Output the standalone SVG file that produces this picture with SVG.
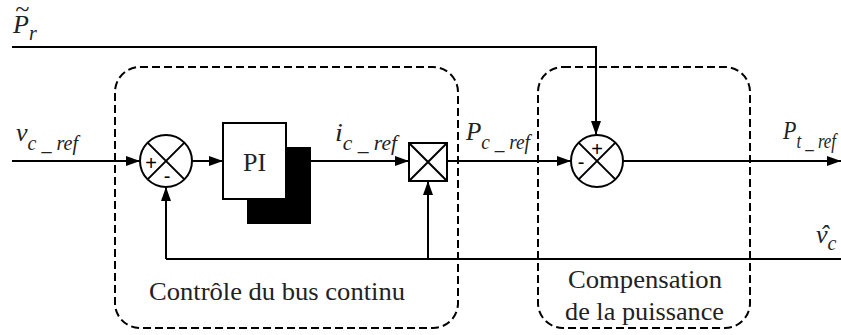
<svg xmlns="http://www.w3.org/2000/svg" width="841" height="335" viewBox="0 0 841 335">
<defs>
<style>
.ln{fill:none;stroke:#000;stroke-width:2}
.dash{fill:none;stroke:#000;stroke-width:2;stroke-dasharray:8 4}
.m{font-family:'Liberation Serif','DejaVu Serif',serif;font-style:italic;font-size:26px;fill:#222}
.s{font-size:20px}
.t{font-family:'Liberation Serif','DejaVu Serif',serif;font-size:26px;fill:#222}
.sg{font-family:'Liberation Sans',sans-serif;font-size:20px;fill:#000;text-anchor:middle}
</style>
<marker id="ah" viewBox="0 0 14 10" refX="14" refY="5" markerWidth="14" markerHeight="10" markerUnits="userSpaceOnUse" orient="auto">
<path d="M0,0 L14,5 L0,10 Z" fill="#000"/>
</marker>
</defs>
<rect width="841" height="335" fill="#fff"/>

<g id="box-controle">
<rect x="115" y="67" width="343" height="261" rx="25" class="dash"/>
<text class="t" x="149" y="300" textLength="256" lengthAdjust="spacingAndGlyphs">Contrôle du bus continu</text>
</g>
<g id="box-compensation">
<rect x="538" y="67" width="212" height="261" rx="25" class="dash"/>
<text class="t" x="568" y="288" textLength="154" lengthAdjust="spacingAndGlyphs">Compensation</text>
<text class="t" x="565" y="320" textLength="159" lengthAdjust="spacingAndGlyphs">de la puissance</text>
</g>

<g id="connectors">
<line x1="12" y1="161" x2="140" y2="161" class="ln" marker-end="url(#ah)"/>
<line x1="192" y1="161" x2="223" y2="161" class="ln" marker-end="url(#ah)"/>
<line x1="311" y1="161" x2="409" y2="161" class="ln" marker-end="url(#ah)"/>
<line x1="447" y1="161" x2="571" y2="161" class="ln" marker-end="url(#ah)"/>
<line x1="623" y1="161" x2="841" y2="161" class="ln" marker-end="url(#ah)"/>
<polyline points="12,47 596,47 596,135" class="ln" marker-end="url(#ah)"/>
<line x1="166" y1="259" x2="841" y2="259" class="ln"/>
<line x1="166" y1="259" x2="166" y2="187" class="ln" marker-end="url(#ah)"/>
<line x1="428" y1="259" x2="428" y2="181" class="ln" marker-end="url(#ah)"/>
</g>

<g id="sum1">
<circle cx="166" cy="161" r="26" fill="#fff" stroke="#000" stroke-width="2"/>
<path d="M147.6,142.6 L184.4,179.4 M184.4,142.6 L147.6,179.4" class="ln"/>
<text class="sg" x="151" y="170">+</text>
<text class="sg" x="167" y="183">-</text>
</g>

<g id="pi">
<rect x="247" y="147" width="64" height="77" fill="#000"/>
<rect x="223" y="123" width="63" height="76" fill="#fff" stroke="#000" stroke-width="2"/>
<text class="t" x="254.5" y="171" text-anchor="middle">PI</text>
</g>

<g id="mult">
<rect x="409" y="143" width="38" height="38" fill="#fff" stroke="#000" stroke-width="2"/>
<path d="M409,143 L447,181 M447,143 L409,181" class="ln"/>
</g>

<g id="sum2">
<circle cx="597" cy="161" r="26" fill="#fff" stroke="#000" stroke-width="2"/>
<path d="M578.6,142.6 L615.4,179.4 M615.4,142.6 L578.6,179.4" class="ln"/>
<text class="sg" x="597" y="156">+</text>
<text class="sg" x="581" y="169">-</text>
</g>

<g id="labels">
<text class="m" x="15" y="17">~</text>
<text class="m" x="13" y="33">P<tspan class="s" dy="7">r</tspan></text>
<text class="m" x="16" y="141" textLength="62" lengthAdjust="spacingAndGlyphs">v<tspan class="s" dy="9">c _ ref</tspan></text>
<text class="m" x="335" y="141" textLength="62" lengthAdjust="spacingAndGlyphs">i<tspan class="s" dy="9">c _ ref</tspan></text>
<text class="m" x="466" y="140" textLength="64" lengthAdjust="spacingAndGlyphs">P<tspan class="s" dy="9">c _ ref</tspan></text>
<text class="m" x="783" y="139" textLength="53" lengthAdjust="spacingAndGlyphs">P<tspan class="s" dy="9">t _ ref</tspan></text>
<text class="m" x="820" y="243">ˆ</text>
<text class="m" x="816" y="243">v<tspan class="s" dy="7">c</tspan></text>
</g>
</svg>
